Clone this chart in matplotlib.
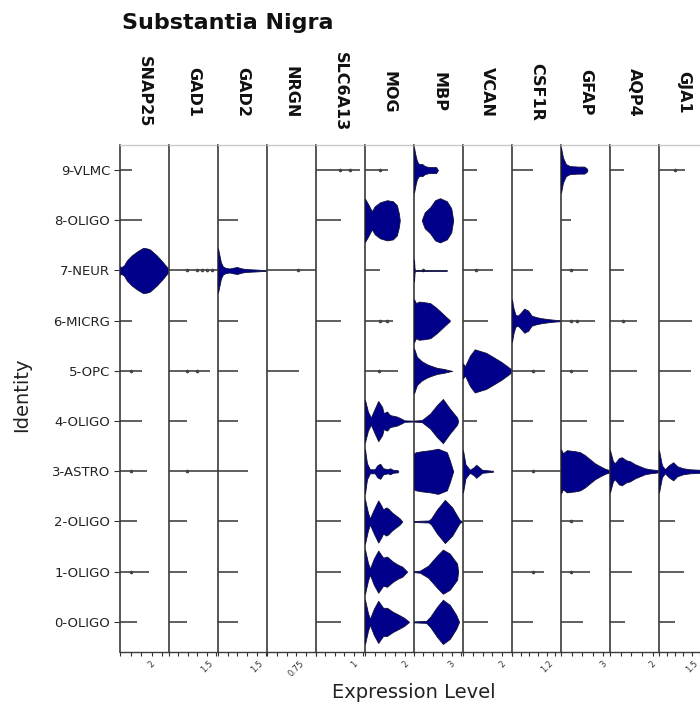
#!/usr/bin/env python3
"""stacked violin plot - Substantia Nigra marker genes"""

import matplotlib

matplotlib.use("Agg")
import matplotlib.pyplot as plt

identities = ["0-OLIGO", "1-OLIGO", "2-OLIGO", "3-ASTRO", "4-OLIGO",
              "5-OPC", "6-MICRG", "7-NEUR", "8-OLIGO", "9-VLMC"]
genes = ["SNAP25", "GAD1", "GAD2", "NRGN", "SLC6A13", "MOG",
         "MBP", "VCAN", "CSF1R", "GFAP", "AQP4", "GJA1"]

# axis range of every gene panel and the one tick that carries a label
x_max = [3.08, 1.95, 1.9, 1.25, 1.3, 2.45, 3.9, 2.5, 1.7, 3.5, 2.3, 2.25]
label_tick = [2, 1.5, 1.5, 0.75, 1, 2, 3, 2, 1.2, 3, 2, 1.5]
tick_step = [0.667, 0.375, 0.375, 0.25, 0.25, 0.5, 0.75, 0.5, 0.3, 0.75, 0.5, 0.375]

# nearly empty cells: max expression (fraction of the panel), rows 0..9
# None = no cells, "v" = drawn as a violin below
line_end = {
    "SNAP25": [0.34, 0.6, 0.35, 0.56, 0.44, 0.44, 0.24, "v", 0.44, 0.24],
    "GAD1": [0.37, 0.37, 0.37, 1.0, 0.37, 0.84, 0.37, 1.0, None, None],
    "GAD2": [0.4, 0.4, 0.4, 0.61, 0.4, 0.4, 0.4, "v", 0.4, None],
    "NRGN": [None, None, None, None, None, 0.65, None, 1.0, None, None],
    "SLC6A13": [0.51, 0.51, 0.51, 0.51, 0.51, None, 0.51, None, 0.51, 0.9],
    "MOG": ["v", "v", "v", "v", "v", 0.67, 0.57, 0.3, "v", 0.47],
    "MBP": ["v"] * 10,
    "VCAN": [0.51, 0.41, 0.41, "v", 0.29, "v", 0.51, 0.61, 0.29, 0.29],
    "CSF1R": [0.43, 0.65, 0.43, 1.0, 0.43, 0.67, "v", 0.43, None, 0.43],
    "GFAP": [0.45, 0.59, 0.45, "v", 0.53, 0.55, 0.69, 0.55, 0.2, "v"],
    "AQP4": [0.31, 0.45, 0.29, "v", 0.29, 0.55, 0.55, 0.29, None, 0.29],
    "GJA1": [0.33, 0.51, 0.33, "v", 0.33, 0.65, 0.67, None, None, 0.53],
}

# single outlier cells sitting on the thin lines (fraction of the panel)
line_dots = {
    ("SNAP25", "1-OLIGO"): [0.22], ("SNAP25", "3-ASTRO"): [0.22],
    ("SNAP25", "5-OPC"): [0.22],
    ("GAD1", "3-ASTRO"): [0.37], ("GAD1", "5-OPC"): [0.37, 0.57],
    ("GAD1", "7-NEUR"): [0.37, 0.57, 0.67, 0.78, 0.88],
    ("NRGN", "7-NEUR"): [0.63],
    ("SLC6A13", "9-VLMC"): [0.5, 0.7],
    ("MOG", "9-VLMC"): [0.31], ("MOG", "6-MICRG"): [0.3, 0.45],
    ("MOG", "5-OPC"): [0.29],
    ("MBP", "7-NEUR"): [0.18],
    ("VCAN", "7-NEUR"): [0.27],
    ("CSF1R", "1-OLIGO"): [0.43], ("CSF1R", "3-ASTRO"): [0.43],
    ("CSF1R", "5-OPC"): [0.43],
    ("GFAP", "1-OLIGO"): [0.2], ("GFAP", "2-OLIGO"): [0.2],
    ("GFAP", "5-OPC"): [0.2], ("GFAP", "6-MICRG"): [0.2, 0.33],
    ("GFAP", "7-NEUR"): [0.2],
    ("AQP4", "6-MICRG"): [0.27],
    ("GJA1", "9-VLMC"): [0.33],
}

# violin outlines: (position as fraction of panel, half width in row units)
violins = {
    ("SNAP25", "7-NEUR"): [(0, 0.08), (0.03, 0.07), (0.08, 0.1), (0.14, 0.2), (0.24, 0.3),
                           (0.35, 0.38), (0.47, 0.45), (0.55, 0.44), (0.61, 0.42),
                           (0.75, 0.3), (0.88, 0.16), (0.98, 0.04), (1.0, 0.01)],
    ("GAD2", "7-NEUR"): [(0, 0.44), (0.03, 0.3), (0.06, 0.16), (0.1, 0.08), (0.16, 0.05),
                         (0.24, 0.04), (0.33, 0.06), (0.39, 0.07), (0.45, 0.05),
                         (0.55, 0.03), (0.75, 0.02), (0.92, 0.01), (1.0, 0.008)],
    ("MOG", "8-OLIGO"): [(0, 0.43), (0.06, 0.33), (0.14, 0.18), (0.2, 0.28), (0.31, 0.36),
                         (0.45, 0.4), (0.57, 0.38), (0.65, 0.3), (0.69, 0.14), (0.71, 0.0)],
    ("MOG", "4-OLIGO"): [(0, 0.42), (0.06, 0.19), (0.12, 0.07), (0.2, 0.25), (0.27, 0.4),
                         (0.35, 0.28), (0.38, 0.16), (0.45, 0.19), (0.51, 0.12),
                         (0.65, 0.09), (0.76, 0.04), (0.8, 0.015), (1.0, 0.008)],
    ("MOG", "3-ASTRO"): [(0, 0.44), (0.04, 0.16), (0.1, 0.04), (0.2, 0.04), (0.25, 0.12),
                         (0.31, 0.15), (0.37, 0.06), (0.47, 0.04), (0.51, 0.06),
                         (0.57, 0.03), (0.67, 0.02), (0.68, 0.0)],
    ("MOG", "2-OLIGO"): [(0, 0.44), (0.06, 0.18), (0.1, 0.06), (0.18, 0.24), (0.27, 0.42),
                         (0.33, 0.32), (0.37, 0.24), (0.43, 0.28), (0.47, 0.26),
                         (0.55, 0.18), (0.63, 0.12), (0.71, 0.06), (0.76, 0.0)],
    ("MOG", "1-OLIGO"): [(0, 0.44), (0.06, 0.18), (0.1, 0.06), (0.18, 0.26), (0.27, 0.42),
                         (0.37, 0.28), (0.45, 0.3), (0.57, 0.2), (0.67, 0.14),
                         (0.76, 0.1), (0.86, 0.0)],
    ("MOG", "0-OLIGO"): [(0, 0.44), (0.06, 0.18), (0.1, 0.06), (0.18, 0.26), (0.27, 0.42),
                         (0.37, 0.28), (0.45, 0.28), (0.57, 0.2), (0.69, 0.14),
                         (0.8, 0.08), (0.9, 0.0)],
    ("MBP", "9-VLMC"): [(0, 0.45), (0.03, 0.3), (0.06, 0.18), (0.1, 0.12), (0.17, 0.12),
                        (0.22, 0.08), (0.3, 0.06), (0.45, 0.06), (0.49, 0.0)],
    ("MBP", "8-OLIGO"): [(0.16, 0.0), (0.18, 0.06), (0.22, 0.16), (0.33, 0.26), (0.43, 0.4),
                         (0.53, 0.44), (0.67, 0.38), (0.76, 0.24), (0.8, 0.0)],
    ("MBP", "7-NEUR"): [(0, 0.22), (0.012, 0.03), (0.03, 0.01), (0.67, 0.008)],
    ("MBP", "6-MICRG"): [(0, 0.43), (0.04, 0.35), (0.1, 0.38), (0.2, 0.37), (0.33, 0.35),
                         (0.45, 0.26), (0.53, 0.19), (0.65, 0.08), (0.73, 0.01)],
    ("MBP", "5-OPC"): [(0, 0.45), (0.06, 0.28), (0.16, 0.19), (0.27, 0.13), (0.35, 0.1),
                       (0.47, 0.06), (0.6, 0.04), (0.73, 0.01), (0.78, 0.0)],
    ("MBP", "4-OLIGO"): [(0, 0.01), (0.16, 0.02), (0.33, 0.15), (0.47, 0.32), (0.59, 0.44),
                         (0.73, 0.25), (0.88, 0.07), (0.9, 0.0)],
    ("MBP", "3-ASTRO"): [(0, 0.36), (0.04, 0.38), (0.16, 0.4), (0.33, 0.42), (0.49, 0.45),
                         (0.67, 0.38), (0.73, 0.22), (0.8, 0.0)],
    ("MBP", "2-OLIGO"): [(0, 0.01), (0.3, 0.02), (0.35, 0.06), (0.47, 0.24), (0.63, 0.43),
                         (0.78, 0.28), (0.9, 0.08), (0.94, 0.02), (1.0, 0.01)],
    ("MBP", "1-OLIGO"): [(0, 0.01), (0.12, 0.02), (0.29, 0.12), (0.47, 0.32), (0.59, 0.44),
                         (0.73, 0.36), (0.88, 0.16), (0.9, 0.0)],
    ("MBP", "0-OLIGO"): [(0, 0.01), (0.25, 0.02), (0.33, 0.1), (0.47, 0.3), (0.59, 0.44),
                         (0.73, 0.34), (0.86, 0.14), (0.92, 0.0)],
    ("VCAN", "5-OPC"): [(0, 0.15), (0.04, 0.09), (0.14, 0.3), (0.24, 0.43), (0.37, 0.39),
                        (0.47, 0.36), (0.61, 0.28), (0.78, 0.18), (0.92, 0.08), (1.0, 0.02)],
    ("VCAN", "3-ASTRO"): [(0, 0.42), (0.05, 0.14), (0.14, 0.03), (0.22, 0.08), (0.27, 0.13),
                          (0.33, 0.08), (0.39, 0.03), (0.61, 0.01)],
    ("CSF1R", "6-MICRG"): [(0, 0.42), (0.03, 0.25), (0.07, 0.12), (0.12, 0.1), (0.18, 0.16),
                           (0.25, 0.24), (0.33, 0.2), (0.4, 0.1), (0.5, 0.07), (0.6, 0.05),
                           (0.75, 0.03), (0.9, 0.015), (1.0, 0.01)],
    ("GFAP", "9-VLMC"): [(0, 0.45), (0.04, 0.25), (0.1, 0.12), (0.18, 0.08), (0.35, 0.07),
                         (0.47, 0.07), (0.52, 0.04), (0.54, 0.0)],
    ("GFAP", "3-ASTRO"): [(0, 0.44), (0.04, 0.36), (0.12, 0.42), (0.29, 0.4), (0.39, 0.38),
                          (0.49, 0.32), (0.59, 0.24), (0.69, 0.16), (0.8, 0.1),
                          (0.9, 0.05), (1.0, 0.02)],
    ("AQP4", "3-ASTRO"): [(0, 0.42), (0.06, 0.2), (0.1, 0.16), (0.18, 0.26), (0.24, 0.28),
                          (0.33, 0.22), (0.41, 0.2), (0.51, 0.14), (0.61, 0.1),
                          (0.71, 0.06), (0.82, 0.04), (1.0, 0.02)],
    ("GJA1", "3-ASTRO"): [(0, 0.42), (0.06, 0.12), (0.12, 0.04), (0.2, 0.12), (0.29, 0.18),
                          (0.37, 0.1), (0.49, 0.06), (0.63, 0.04), (0.84, 0.03), (0.9, 0.0)],
}

VIOLIN_COLOR = "#00008b"
LINE_COLOR = "#444444"

W, H = 700, 711
fig = plt.figure(figsize=(W / 100, H / 100), dpi=100)

left_px, top_px, bottom_px, panel_px = 120, 145, 652, 49

for i, gene in enumerate(genes):
    ax = fig.add_axes([(left_px + i * panel_px) / W, 1 - bottom_px / H,
                       panel_px / W, (bottom_px - top_px) / H])
    xm = x_max[i]

    for r, ident in enumerate(identities):
        end = line_end[gene][r]
        if end == "v":
            prof = violins[(gene, ident)]
            xs = [p[0] * xm for p in prof]
            hw = [p[1] for p in prof]
            ax.fill_between(xs, [r - h for h in hw], [r + h for h in hw],
                            facecolor=VIOLIN_COLOR, edgecolor="#10103a", lw=0.6, zorder=3)
        elif end is not None:
            ax.hlines(r, 0, end * xm, color=LINE_COLOR, lw=1.2, zorder=2)
        dots = line_dots.get((gene, ident))
        if dots:
            ax.plot([d * xm for d in dots], [r] * len(dots), "o", ms=1.6,
                    color=LINE_COLOR, zorder=2)

    ax.set_xlim(0, xm)
    ax.set_ylim(-0.6, 9.5)

    # ticks: one labelled value per gene, the rest unlabelled
    ticks = [k * tick_step[i] for k in range(int(xm / tick_step[i]) + 1)]
    ax.set_xticks(ticks)
    ax.set_xticklabels([("%g" % label_tick[i]) if abs(t - label_tick[i]) < 0.01 else ""
                        for t in ticks],
                       rotation=45, fontsize=6, color="#333333")
    ax.tick_params(axis="x", length=3, width=0.8, color="#333333", pad=2)

    ax.spines["right"].set_visible(False)
    ax.spines["left"].set_color("#3a3a3a")
    ax.spines["left"].set_linewidth(1.2)
    ax.spines["bottom"].set_color("#3a3a3a")
    ax.spines["bottom"].set_linewidth(1.0)
    ax.spines["top"].set_color("#c8c8c8")
    ax.spines["top"].set_linewidth(1.0)

    if i == 0:
        ax.set_yticks(range(len(identities)))
        ax.set_yticklabels(identities, fontsize=9.5, color="#222222")
        ax.tick_params(axis="y", length=4, width=0.8, color="#333333", pad=3)
    else:
        ax.set_yticks([])

    # gene name above the panel
    fig.text((left_px + (i + 0.5) * panel_px) / W, 1 - 92 / H, gene,
             rotation=-90, ha="center", va="center", fontsize=11.5,
             fontweight="bold", color="#111111")

fig.text(122 / W, 1 - 23 / H, "Substantia Nigra", fontsize=16, fontweight="bold",
         ha="left", va="center", color="#111111")
fig.text(22 / W, 1 - 395 / H, "Identity", rotation=90, fontsize=14,
         ha="center", va="center", color="#222222")
fig.text(414 / W, 1 - 693 / H, "Expression Level", fontsize=14,
         ha="center", va="center", color="#222222")

fig.savefig("out.png", dpi=100)
